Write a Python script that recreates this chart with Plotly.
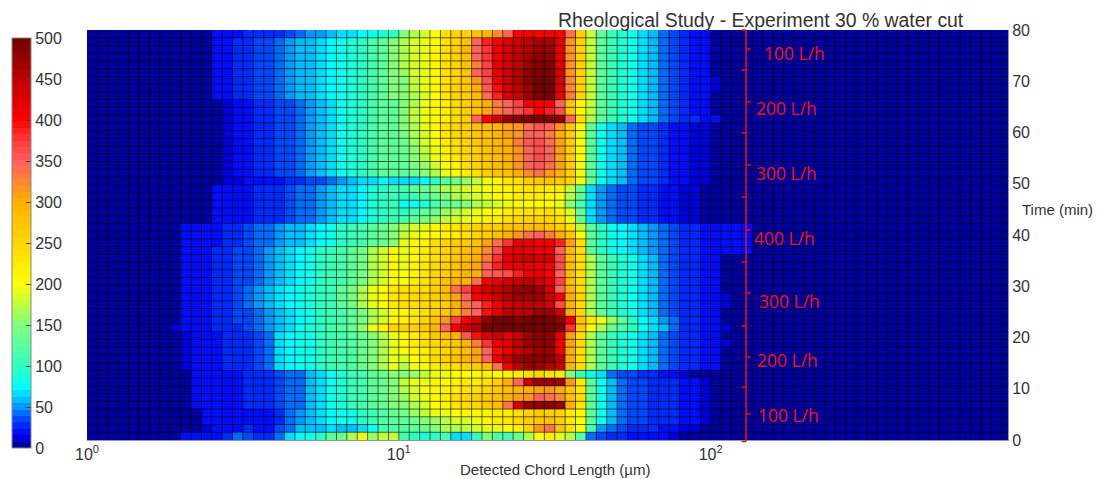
import plotly.graph_objects as go

W, H = 1101, 479
L_PX, R_PX, T_PX, B_PX = 85, 1008, 30, 440
BG = 3
COLS_PER_DECADE = 30
N_COLS = 89

# ---- value tables: each row = left part (bins 8-29) + centre (bins 30-47) + tail (bins 48-63)
LEFT_TOP0 = [3,3,3,3,16,18,20,24,25,28,30,38,42,48,52,60,65,70,75,85,90,100]
LEFT_TOP = [3,3,3,3,18,22,24,28,32,35,42,48,55,62,70,78,85,92,100,115,130,155]
LEFT_MID = [3,3,3,3,3,15,18,20,25,25,32,38,45,50,58,68,80,90,100,110,125,130]
LEFT_K33 = [3,3,3,3,5,8,14,16,18,20,22,24,28,32,38,45,52,60,65,68,72,70]
LEFT_BAND = [3,3,3,3,16,18,20,22,24,26,30,35,40,46,52,58,64,70,78,86,95,105]
LEFT_WIDE = [3,18,18,20,22,25,30,35,40,45,50,55,62,68,75,85,95,105,115,125,135,150]
LEFT_LOW1 = [3,18,20,22,24,28,35,38,45,52,62,70,78,85,95,105,115,125,145,165,185,205]
LEFT_LOW2 = [3,18,20,22,26,30,36,45,52,58,70,78,85,92,100,108,125,145,165,190,210,230]
LEFT_LOW3 = [3,15,20,20,22,26,28,30,35,45,68,72,80,85,95,105,110,120,135,150,170,190]
LEFT_LOW4 = [3,5,18,18,18,20,22,24,28,30,35,40,45,55,68,80,90,105,115,125,140,150]
LEFT_K14 = [12,18,20,22,24,28,30,36,42,50,60,70,80,90,100,110,120,135,160,190,215,250]
LEFT_K3 = [3,5,5,18,18,18,22,22,22,22,25,40,50,60,70,75,80,85,95,105,120,130]
LEFT_K1 = [3,3,3,12,20,22,22,25,22,22,35,40,55,60,60,65,60,55,70,85,110,120]
LEFT_K0 = [3,18,18,18,22,25,40,35,30,25,40,65,75,80,100,125,135,165,190,160,175,175]

TAIL_TOP = [175,130,105,90,80,68,55,42,32,25,20,18,3,3,3,3]
TAIL_TOP2 = [175,130,105,90,80,68,55,42,32,25,20,18,15,3,3,3]
TAIL_MID = [130,80,65,55,45,38,32,26,22,18,15,12,3,3,3,3]
TAIL_BAND = [70,52,42,36,32,28,25,22,18,15,12,3,3,3,3,3]
TAIL_WIDE = [130,100,85,75,65,58,50,42,32,28,24,22,20,20,20,20]
TAIL_CORE = [170,130,105,90,80,70,55,45,35,28,25,20,16,3,3,3]
TAIL_CORE2 = [170,130,105,90,80,70,55,45,35,28,25,20,18,15,3,3]
TAIL_K15 = [230,190,160,130,100,75,70,50,40,28,24,20,18,3,3,3]
TAIL_K14 = [210,170,140,115,95,80,70,55,40,30,25,20,18,12,3,3]
TAIL_LOW = [130,80,60,45,38,35,30,28,25,20,18,14,3,3,3,3]
TAIL_K8 = [80,65,45,38,35,30,28,22,18,14,3,3,3,3,3,3]
TAIL_K1 = [110,50,40,35,30,28,25,22,18,15,12,3,3,3,3,3]
TAIL_K0 = [45,35,25,25,22,20,18,18,15,5,3,3,3,3,3,3]

# bottom row (t = 0) first
ROWS = [
 (LEFT_K0,  [110,100,90,100,110,70,65,105,150,120,110,140,170,200,220,190,165,120], TAIL_K0),
 (LEFT_K1,  [120,130,140,150,165,170,175,185,190,190,200,215,250,320,340,280,240,200], TAIL_K1),
 (LEFT_K3,  [130,140,150,160,170,180,185,195,205,220,230,245,260,270,280,260,230,200], TAIL_LOW),
 (LEFT_K3,  [145,160,175,190,195,200,205,210,215,220,225,235,255,270,265,250,225,210], TAIL_LOW),
 (LEFT_LOW4,[150,170,185,200,215,230,245,255,270,285,340,430,470,480,480,470,300,230], TAIL_LOW),
 (LEFT_LOW4,[160,180,195,205,220,235,250,260,270,280,295,305,320,345,340,325,280,235], TAIL_LOW),
 (LEFT_LOW4,[165,185,200,210,215,225,235,240,250,270,285,295,300,310,320,300,270,230], TAIL_LOW),
 (LEFT_LOW4,[175,190,195,205,210,215,220,225,235,260,300,350,445,470,475,470,320,220], TAIL_LOW),
 (LEFT_LOW4,[150,160,175,190,195,200,200,205,215,205,215,225,240,250,240,225,150,105], TAIL_K8),
 (LEFT_LOW3,[170,190,205,220,235,240,255,265,285,340,400,450,470,470,460,440,290,240], TAIL_CORE),
 (LEFT_LOW3,[185,205,225,245,260,275,290,310,350,410,440,470,480,480,480,450,300,240], TAIL_CORE),
 (LEFT_LOW3,[200,215,225,240,255,270,285,310,350,395,410,440,460,470,470,410,300,240], TAIL_CORE),
 (LEFT_LOW3,[205,220,235,245,260,270,290,330,380,410,420,450,470,480,480,410,310,245], TAIL_CORE2),
 (LEFT_LOW3,[210,225,235,270,285,300,355,395,425,440,420,440,470,480,480,420,310,240], TAIL_CORE),
 (LEFT_K14, [255,260,270,295,350,400,430,460,495,495,495,495,495,495,495,490,380,270], TAIL_K14),
 (LEFT_LOW1,[215,230,250,275,320,370,400,430,480,495,495,490,495,495,495,480,410,275], TAIL_K15),
 (LEFT_LOW1,[210,225,240,255,270,295,330,345,395,420,450,450,460,470,470,430,300,245], TAIL_CORE),
 (LEFT_LOW2,[235,240,245,250,265,290,330,350,385,410,430,440,450,450,430,360,290,240], TAIL_CORE2),
 (LEFT_LOW2,[240,245,250,260,280,310,345,400,420,440,460,470,470,470,440,400,300,250], TAIL_CORE2),
 (LEFT_LOW2,[235,240,245,265,285,340,370,410,430,440,460,470,480,470,430,350,290,245], TAIL_CORE),
 (LEFT_LOW1,[200,220,235,255,275,290,295,340,400,420,430,445,450,430,420,370,285,240], TAIL_CORE),
 (LEFT_LOW1,[200,215,230,250,265,280,290,300,350,355,365,390,410,420,400,350,285,240], TAIL_CORE),
 (LEFT_LOW1,[195,215,230,245,260,275,290,310,350,390,410,420,420,420,410,360,285,240], TAIL_CORE),
 (LEFT_LOW1,[190,205,220,240,255,270,285,300,330,380,420,430,440,430,430,360,285,240], TAIL_CORE),
 (LEFT_LOW1,[190,205,220,240,255,270,285,295,325,365,410,420,420,410,410,350,285,240], TAIL_WIDE),
 (LEFT_WIDE,[190,205,215,235,250,260,270,280,310,340,380,420,420,410,410,390,310,235], TAIL_WIDE),
 (LEFT_WIDE,[175,190,200,210,215,225,240,250,260,280,300,320,340,345,330,300,270,200], TAIL_WIDE),
 (LEFT_WIDE,[170,185,195,205,220,230,245,250,260,265,275,280,285,285,275,260,240,175], TAIL_WIDE),
 (LEFT_BAND,[115,130,145,160,175,185,195,205,215,225,235,245,250,255,250,235,190,135], TAIL_BAND),
 (LEFT_BAND,[100,110,125,140,160,170,180,190,200,210,220,230,240,240,235,225,180,130], TAIL_BAND),
 (LEFT_BAND,[80,80,90,110,125,135,150,165,175,185,195,205,210,205,205,195,150,110], TAIL_BAND),
 (LEFT_BAND,[95,105,120,135,155,165,175,185,195,200,210,220,225,225,215,205,165,125], TAIL_BAND),
 (LEFT_BAND,[110,125,135,150,165,175,185,195,200,205,215,225,230,230,225,220,175,130], TAIL_BAND),
 (LEFT_K33, [70,65,75,100,120,140,160,175,190,210,230,240,260,270,275,270,255,195], TAIL_MID),
 (LEFT_MID, [125,140,155,170,190,205,225,240,260,275,285,300,325,340,320,300,265,195], TAIL_MID),
 (LEFT_MID, [130,145,160,180,200,215,240,255,270,285,295,320,345,355,340,310,265,195], TAIL_MID),
 (LEFT_MID, [135,150,170,190,215,230,245,260,275,285,300,320,350,360,345,310,265,200], TAIL_MID),
 (LEFT_MID, [135,155,175,195,215,235,250,265,280,290,300,320,350,360,345,310,265,200], TAIL_MID),
 (LEFT_MID, [140,160,180,200,225,240,255,270,280,290,300,330,355,360,340,310,265,200], TAIL_MID),
 (LEFT_MID, [145,165,185,200,230,245,260,270,280,290,310,320,345,350,330,300,260,195], TAIL_MID),
 (LEFT_MID, [150,170,190,205,235,250,265,275,285,295,305,320,340,355,345,320,270,200], TAIL_MID),
 (LEFT_MID, [155,175,190,205,225,245,265,345,400,430,470,490,490,490,490,480,345,240], TAIL_CORE),
 (LEFT_MID, [155,175,190,205,225,245,260,280,310,335,350,360,380,400,390,360,270,205], TAIL_TOP),
 (LEFT_MID, [150,170,190,205,225,245,265,280,300,330,350,370,400,410,400,350,270,205], TAIL_TOP),
 (LEFT_TOP, [150,170,185,200,230,250,265,285,340,385,425,440,470,490,495,420,330,245], TAIL_TOP),
 (LEFT_TOP, [155,175,190,205,235,255,270,300,355,395,430,450,475,495,495,425,325,250], TAIL_TOP2),
 (LEFT_TOP, [155,175,190,205,240,255,275,320,365,410,440,460,480,495,495,430,325,250], TAIL_TOP2),
 (LEFT_TOP, [160,180,190,210,240,255,275,345,370,420,440,460,480,490,490,430,320,250], TAIL_TOP),
 (LEFT_TOP, [165,180,195,210,240,255,280,330,370,415,435,450,470,485,485,425,320,250], TAIL_TOP),
 (LEFT_TOP, [165,180,195,210,240,260,285,345,375,410,430,450,465,480,480,420,320,250], TAIL_TOP),
 (LEFT_TOP, [165,180,195,210,240,260,290,350,380,410,430,440,460,475,475,420,320,250], TAIL_TOP),
 (LEFT_TOP, [165,180,190,205,240,255,280,350,385,405,425,435,450,465,465,420,320,250], TAIL_TOP),
 (LEFT_TOP0,[150,170,180,200,240,250,260,275,290,325,350,400,410,400,410,400,340,260], TAIL_TOP),
]

CB_TICKS = [0,50,100,150,200,250,300,350,400,450,500]
TIME_TICKS = [0,10,20,30,40,50,60,70,80]
X_TICKS = [1,10,100]
X_TICK_TEXT = ["10<sup>0</sup>","10<sup>1</sup>","10<sup>2</sup>"]
FLOW_LABELS = [("100 L/h",794,53),("200 L/h",786,108),("300 L/h",786,173),("400 L/h",784,238),
               ("300 L/h",789,301),("200 L/h",787,360),("100 L/h",788,415)]
BRACKET_LEFT = [30,70,133,197,262,326,387,441.5]
BRACKET_RIGHT = [49,102,165,230,293,357,414]
ANCHORS = [(0,(0,0,128)),(16,(0,0,255)),(40,(0,90,255)),(50,(0,150,255)),(62,(0,205,255)),(75,(0,255,255)),
           (100,(50,255,190)),(150,(128,255,128)),(200,(255,255,0)),(250,(255,215,0)),(300,(255,176,0)),
           (325,(255,135,50)),(350,(255,95,95)),(375,(255,60,60)),(400,(255,0,0)),(450,(190,0,0)),(500,(110,0,0))]

def color_at(v):
    for (a,ca),(b,cb) in zip(ANCHORS, ANCHORS[1:]):
        if v <= b:
            f = (v-a)/(b-a)
            return "rgb(%d,%d,%d)" % tuple(round(p+(q-p)*f) for p,q in zip(ca,cb))
    return "rgb(110,0,0)"

LEVELS = 64
colorscale = []
for i in range(LEVELS):
    c = color_at(500*(i+0.5)/LEVELS)
    colorscale += [[i/LEVELS, c], [(i+1)/LEVELS, c]]

z = [[BG]*8 + list(l) + list(m) + list(t) + [BG]*(N_COLS-64) for l,m,t in ROWS]
x_edges = [10**(c/COLS_PER_DECADE) for c in range(N_COLS+1)]
y_edges = [i*80/len(ROWS) for i in range(len(ROWS)+1)]

def px(x): return (x-L_PX)/(R_PX-L_PX)
def py(y): return (B_PX-y)/(B_PX-T_PX)

fig = go.Figure(go.Heatmap(
    z=z, x=x_edges, y=y_edges, zmin=0, zmax=500, colorscale=colorscale, hoverinfo="skip",
    colorbar=dict(x=px(10), xanchor="left", y=py(243), yanchor="middle", lenmode="pixels", len=410,
                  thicknessmode="pixels", thickness=19, xpad=0, ypad=0, outlinecolor="#888", outlinewidth=1,
                  tickvals=CB_TICKS, ticks="inside", ticklen=5, tickcolor="#444",
                  tickfont=dict(family="Liberation Sans", size=16, color="#333")),
))

# cell borders, drawn along the same bin edges as the cells
grid_x, grid_y = [], []
for e in x_edges[1:-1]:
    grid_x += [e, e, None]; grid_y += [0, 80, None]
for e in y_edges[1:-1]:
    grid_x += [1, x_edges[-1], None]; grid_y += [e, e, None]
fig.add_trace(go.Scatter(x=grid_x, y=grid_y, mode="lines", hoverinfo="skip", showlegend=False,
                         line=dict(color="rgba(0,0,0,0.6)", width=1)))

RED = "#e8101c"
shapes = [dict(type="line", xref="paper", yref="paper", x0=px(745.5), x1=px(745.5), y0=py(30), y1=py(441.5),
               line=dict(color=RED, width=1.5))]
for y in BRACKET_LEFT:
    shapes.append(dict(type="line", xref="paper", yref="paper", x0=px(741), x1=px(745.5), y0=py(y), y1=py(y),
                       line=dict(color=RED, width=1.5)))
for y in BRACKET_RIGHT:
    shapes.append(dict(type="line", xref="paper", yref="paper", x0=px(745.5), x1=px(750), y0=py(y), y1=py(y),
                       line=dict(color=RED, width=1.5)))

def label(text, x, y, size, color="#333", family="Liberation Sans"):
    return dict(text=text, xref="paper", yref="paper", x=px(x), y=py(y), xanchor="center", yanchor="middle",
                showarrow=False, font=dict(family=family, size=size, color=color))

ann = [label(t, x, y, 17.5, "#f01020", "Open Sans") for t,x,y in FLOW_LABELS]
ann.append(label("Rheological Study - Experiment 30 % water cut", 760.5, 20, 19.4))
ann.append(label("Detected Chord Length (µm)", 554, 469, 15))
ann.append(label("Time (min)", 1058, 210, 15))

fig.update_layout(
    width=W, height=H, autosize=False, paper_bgcolor="white", plot_bgcolor="black", showlegend=False,
    margin=dict(l=L_PX, r=W-R_PX, t=T_PX, b=H-B_PX, pad=0),
    shapes=shapes, annotations=ann,
    xaxis=dict(type="log", range=[0, (R_PX-L_PX)/312.5], automargin=False,
               tickvals=X_TICKS, ticktext=X_TICK_TEXT, ticks="", showgrid=False, zeroline=False,
               showline=True, linecolor="#999", tickfont=dict(family="Liberation Sans", size=16, color="#333")),
    yaxis=dict(range=[0,80], side="right", tickvals=TIME_TICKS, ticks="", automargin=False,
               showgrid=False, zeroline=False, showline=True, linecolor="#999",
               tickfont=dict(family="Liberation Sans", size=16, color="#333")),
)
fig.write_html("out.html", post_script="document.body.style.margin='0';", config={"displayModeBar": False})
